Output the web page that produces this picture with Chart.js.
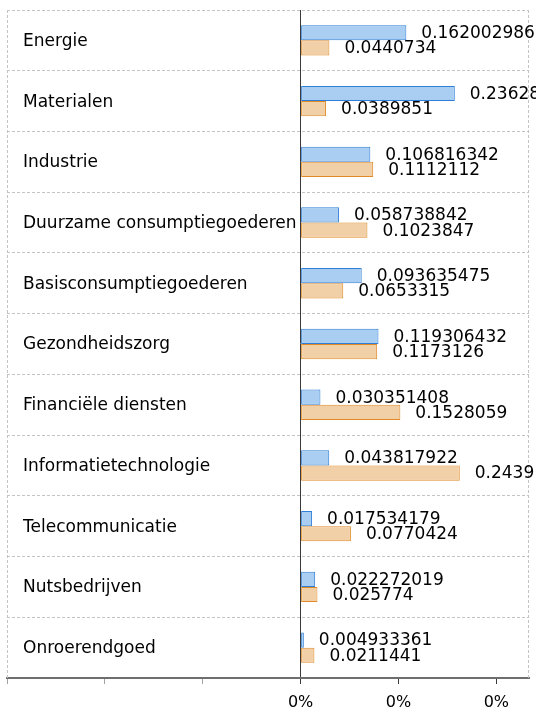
<!DOCTYPE html>
<html><head><meta charset="utf-8">
<script src="https://cdn.jsdelivr.net/npm/chart.js@4"></script>
<style>html,body{margin:0;padding:0;background:#fff;overflow:hidden}</style>
</head><body>
<canvas id="c" width="536" height="714"></canvas>
<script>
const categories = ['Energie','Materialen','Industrie','Duurzame consumptiegoederen','Basisconsumptiegoederen','Gezondheidszorg','Financiële diensten','Informatietechnologie','Telecommunicatie','Nutsbedrijven','Onroerendgoed'];
const seriesBlue = [0.162002986,0.23628,0.106816342,0.058738842,0.093635475,0.119306432,0.030351408,0.043817922,0.017534179,0.022272019,0.004933361];
const seriesOrange = [0.0440734,0.0389851,0.1112112,0.1023847,0.0653315,0.1173126,0.1528059,0.2439,0.0770424,0.025774,0.0211441];
const tickValues = [-0.45,-0.3,-0.15,0,0.15,0.3];
const tickLabels = ['','','','0%','0%','0%'];

const FONT = 'DejaVu Sans';

const boxPlugin = {
  id:'box',
  beforeDatasetsDraw(chart){
    const {ctx, chartArea:a} = chart;
    ctx.save();
    ctx.strokeStyle = '#C4C4C4';
    ctx.lineWidth = 1;
    ctx.setLineDash([3,2]);
    ctx.beginPath();
    ctx.moveTo(a.left+0.5, a.top); ctx.lineTo(a.left+0.5, a.bottom);
    ctx.moveTo(a.right-0.5, a.top); ctx.lineTo(a.right-0.5, a.bottom);
    ctx.stroke();
    ctx.restore();
  }
};

const labelPlugin = {
  id:'vlabels',
  afterDatasetsDraw(chart){
    const ctx = chart.ctx;
    ctx.save();
    ctx.font = '17px "' + FONT + '"';
    ctx.fillStyle = '#000';
    ctx.textAlign = 'left';
    ctx.textBaseline = 'middle';
    chart.data.datasets.forEach((ds, di) => {
      const meta = chart.getDatasetMeta(di);
      meta.data.forEach((bar, i) => {
        ctx.fillText(String(ds.data[i]), bar.x + 15, bar.y + 1);
      });
    });
    ctx.restore();
  }
};

new Chart(document.getElementById('c'), {
  type:'bar',
  data:{
    labels: categories,
    datasets:[
      {data: seriesBlue, backgroundColor:'#A9CEF1', borderColor:'#2F7FD6', borderWidth:1, borderSkipped:false, barPercentage:1, categoryPercentage:0.5},
      {data: seriesOrange, backgroundColor:'#F2D0A7', borderColor:'#DF8A27', borderWidth:1, borderSkipped:false, barPercentage:1, categoryPercentage:0.5}
    ]
  },
  options:{
    indexAxis:'y',
    responsive:false,
    animation:false,
    devicePixelRatio:1,
    layout:{padding:{top:10,right:7,left:0,bottom:0}},
    plugins:{legend:{display:false}, tooltip:{enabled:false}},
    scales:{
      x:{
        type:'linear', min:-0.45, max:0.35,
        afterBuildTicks(s){ s.ticks = tickValues.map(v => ({value:v})); },
        afterFit(s){ s.height = 36; s.paddingLeft = 0; s.paddingRight = 0; },
        grid:{
          color: c => (c.tick && c.tick.value === 0) ? '#3A3A3A' : 'rgba(0,0,0,0)',
          tickColor: c => (c.tick && c.tick.value >= 0) ? '#3A3A3A' : 'rgba(100,100,100,0.6)',
          tickLength:6, lineWidth:1
        },
        border:{display:true, color:'#6E6E6E', width:2},
        ticks:{
          callback:(v,i) => tickLabels[i],
          font:{family:FONT, size:16}, color:'#000', padding:9, maxRotation:0, autoSkip:false
        }
      },
      y:{
        type:'category',
        afterFit(s){ s.width = 7; s.paddingTop = 0; s.paddingBottom = 0; },
        grid:{color:'#C4C4C4', drawTicks:false, offset:true, lineWidth:1},
        border:{display:false, dash:[3,2]},
        ticks:{mirror:true, padding:16, labelOffset:1, font:{family:FONT, size:17}, color:'#000', autoSkip:false}
      }
    }
  },
  plugins:[boxPlugin, labelPlugin]
});
</script>
</body></html>
